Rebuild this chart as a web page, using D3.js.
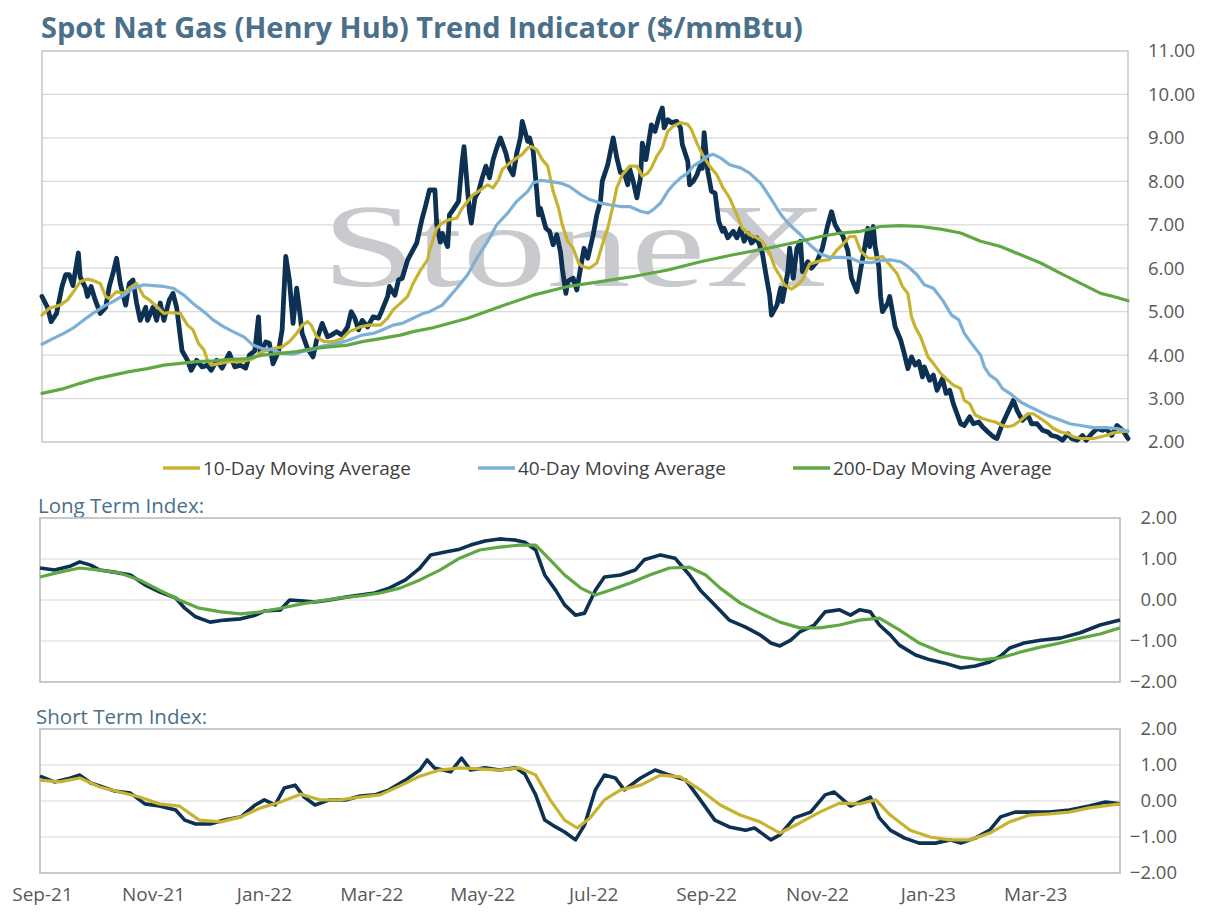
<!DOCTYPE html>
<html>
<head>
<meta charset="utf-8">
<script src="https://cdn.jsdelivr.net/npm/d3@7"></script>
<style>
body { margin: 0; background: #fff; }
text { font-family: "Open Sans", sans-serif; }
text.mark { font-family: "Liberation Serif", "DejaVu Serif", serif; }
</style>
</head>
<body>
<svg id="chart" width="1209" height="922"></svg>
<script>
// every point is [days since 1 Sep 2021, value]
const startDate = new Date(2021, 8, 1);
const lastDay = 597;

const spot = [[0,5.35],[3,5.1],[5,4.77],[8,4.96],[11,5.58],[13,5.85],[15,5.85],[17,5.6],[20,6.35],[21,5.8],
  [24,5.54],[25,5.35],[27,5.58],[29,5.3],[32,4.96],[35,5.1],[37,5.58],[39,5.88],[41,6.23],[43,5.65],
  [46,5.15],[48,5.65],[50,5.73],[52,5.2],[54,4.8],[57,5.1],[58,4.8],[61,5.1],[63,4.8],[65,5.2],
  [67,4.8],[70,5.27],[72,5.42],[74,5.1],[77,4.1],[80,3.88],[82,3.65],[85,3.88],[88,3.73],[91,3.77],
  [93,3.65],[96,3.88],[99,3.7],[102,3.96],[103,4.04],[106,3.73],[109,3.77],[112,3.7],[114,4.0],[117,4.1],
  [119,4.88],[120,4.04],[123,4.3],[125,4.27],[127,3.8],[130,4.08],[132,4.58],[134,6.27],[136,5.73],[138,4.73],
  [140,5.54],[142,4.88],[143,4.5],[146,4.15],[149,3.96],[151,4.35],[154,4.73],[157,4.42],[159,4.46],[162,4.54],
  [165,4.46],[168,4.65],[170,5.0],[172,4.85],[174,4.58],[176,4.8],[179,4.65],[182,4.88],[185,4.85],[187,5.04],
  [190,5.35],[191,5.58],[194,5.38],[196,5.73],[198,5.77],[201,6.19],[203,6.35],[206,6.58],[209,7.15],[211,7.46],
  [213,7.8],[216,7.8],[217,7.0],[219,6.6],[220,6.8],[223,6.5],[224,7.23],[226,7.35],[229,7.54],[231,8.46],
  [232,8.8],[234,7.77],[235,7.3],[236,7.04],[238,7.62],[240,7.77],[242,8.08],[244,8.35],[246,8.08],[248,8.5],
  [250,8.77],[252,9.0],[255,8.65],[257,8.3],[259,8.15],[261,8.65],[263,9.0],[264,9.38],[267,8.92],[268,9.0],
  [270,8.7],[272,7.77],[273,7.23],[274,7.38],[277,6.92],[279,6.85],[281,6.54],[283,6.77],[285,6.38],[286,6.0],
  [288,5.42],[289,5.7],[292,5.77],[294,5.5],[297,6.23],[298,6.46],[300,6.23],[303,6.77],[305,7.23],[307,7.54],
  [308,8.0],[311,8.38],[314,9.0],[316,8.54],[318,8.2],[320,8.2],[322,7.92],[323,8.3],[325,8.0],[327,7.62],
  [329,8.08],[330,8.88],[332,8.5],[333,8.77],[335,9.3],[337,9.15],[339,9.46],[341,9.69],[342,9.23],[344,9.42],
  [346,9.35],[349,9.38],[351,9.23],[352,8.85],[355,8.46],[356,7.92],[358,8.0],[360,8.15],[362,8.38],[363,8.3],
  [364,9.12],[366,8.23],[368,7.77],[370,7.73],[372,7.08],[374,6.85],[375,6.92],[377,6.7],[380,6.85],[382,6.7],
  [384,6.92],[386,6.62],[388,6.8],[390,6.58],[393,6.7],[396,6.35],[398,5.85],[400,5.38],[401,4.92],[404,5.15],
  [406,5.54],[407,5.23],[410,5.92],[411,6.46],[413,5.77],[415,6.46],[417,6.62],[418,5.92],[421,6.15],[423,6.0],
  [426,6.15],[429,6.46],[432,7.0],[434,7.3],[436,7.0],[438,6.85],[440,6.77],[443,6.4],[445,5.77],[448,5.46],
  [450,5.96],[452,6.42],[454,6.92],[455,6.5],[457,6.96],[458,6.5],[460,6.04],[461,5.35],[462,5.0],[465,5.2],
  [466,5.35],[469,4.65],[472,4.35],[474,4.04],[476,3.69],[478,3.96],[480,3.77],[482,3.85],[484,3.5],[485,3.73],
  [488,3.42],[490,3.54],[492,3.19],[495,3.46],[497,3.12],[499,3.19],[501,2.88],[503,2.65],[505,2.42],[507,2.38],
  [510,2.58],[512,2.42],[515,2.46],[517,2.35],[520,2.23],[523,2.12],[525,2.08],[528,2.42],[531,2.69],[534,2.96],
  [536,2.73],[539,2.5],[542,2.62],[544,2.42],[547,2.42],[550,2.27],[553,2.23],[555,2.15],[558,2.12],[561,2.04],
  [564,2.19],[566,2.08],[569,2.04],[572,2.15],[574,2.04],[577,2.19],[580,2.31],[583,2.27],[585,2.31],[588,2.15],
  [591,2.38],[594,2.27],[597,2.08]];

const ma10 = [[0,4.92],[4,5.08],[10,5.15],[14,5.27],[18,5.5],[21,5.69],[25,5.75],[28,5.72],[32,5.65],[35,5.35],
  [37,5.3],[41,5.46],[45,5.42],[48,5.54],[52,5.65],[56,5.35],[59,5.27],[63,5.12],[67,4.96],[70,4.98],
  [76,4.96],[80,4.69],[83,4.58],[86,4.27],[89,4.12],[91,3.88],[93,3.77],[98,3.81],[103,3.85],[110,3.85],
  [116,3.92],[121,4.08],[127,4.15],[132,4.19],[136,4.31],[140,4.5],[143,4.69],[146,4.77],[148,4.69],[151,4.42],
  [155,4.31],[160,4.31],[165,4.38],[169,4.54],[175,4.65],[180,4.69],[186,4.69],[190,4.85],[193,5.04],[197,5.19],
  [201,5.35],[204,5.65],[208,5.95],[212,6.2],[213,6.4],[217,6.92],[220,7.04],[224,7.12],[228,7.15],[231,7.38],
  [234,7.54],[237,7.69],[241,7.8],[245,7.92],[248,7.85],[251,8.04],[253,8.27],[257,8.42],[261,8.54],[264,8.62],
  [267,8.77],[269,8.8],[272,8.73],[275,8.5],[278,8.35],[281,7.77],[284,7.38],[286,7.0],[289,6.62],[292,6.46],
  [295,6.12],[297,6.04],[301,6.0],[305,6.12],[308,6.54],[311,6.92],[314,7.46],[316,7.85],[319,8.15],[323,8.35],
  [327,8.35],[330,8.12],[333,8.19],[335,8.31],[338,8.58],[341,8.77],[344,9.15],[347,9.27],[351,9.35],[355,9.31],
  [357,9.19],[360,8.88],[363,8.62],[367,8.35],[371,8.15],[374,7.88],[378,7.62],[382,7.23],[385,6.92],[389,6.77],
  [393,6.7],[396,6.62],[400,6.35],[403,6.0],[406,5.8],[408,5.62],[412,5.52],[415,5.6],[418,5.73],[422,6.1],
  [428,6.17],[433,6.2],[437,6.42],[440,6.54],[444,6.73],[447,6.73],[450,6.4],[454,6.23],[457,6.23],[462,6.27],
  [466,6.08],[470,5.88],[473,5.58],[476,5.42],[478,4.88],[480,4.65],[483,4.42],[487,3.96],[490,3.81],[494,3.58],
  [498,3.42],[501,3.31],[505,3.23],[507,2.96],[510,2.88],[513,2.62],[517,2.54],[520,2.5],[524,2.46],[528,2.38],
  [531,2.35],[534,2.38],[538,2.5],[542,2.65],[545,2.65],[549,2.54],[553,2.42],[556,2.31],[560,2.23],[564,2.19],
  [567,2.12],[571,2.08],[574,2.08],[578,2.08],[582,2.12],[585,2.15],[589,2.21],[593,2.23],[597,2.25]];

const ma40 = [[0,4.25],[6,4.38],[12,4.5],[17,4.62],[23,4.81],[28,4.96],[34,5.12],[39,5.23],[45,5.38],[50,5.54],
  [56,5.62],[61,5.6],[67,5.58],[72,5.54],[78,5.38],[83,5.19],[89,5.0],[94,4.81],[100,4.65],[105,4.54],
  [111,4.42],[116,4.23],[121,4.15],[127,4.12],[132,4.04],[138,4.02],[143,4.08],[149,4.13],[154,4.21],[160,4.25],
  [166,4.31],[171,4.38],[176,4.46],[182,4.5],[187,4.58],[193,4.69],[198,4.73],[204,4.85],[209,4.95],[213,5.0],
  [220,5.15],[228,5.54],[234,5.85],[239,6.23],[245,6.62],[250,7.0],[256,7.27],[261,7.54],[267,7.77],[270,7.96],
  [274,8.02],[279,8.0],[285,7.96],[290,7.88],[296,7.7],[301,7.58],[307,7.5],[312,7.46],[318,7.42],[323,7.42],
  [329,7.31],[333,7.27],[336,7.35],[340,7.5],[344,7.77],[347,7.92],[351,8.08],[355,8.19],[358,8.35],[362,8.46],
  [366,8.58],[369,8.62],[373,8.54],[378,8.38],[384,8.31],[389,8.19],[395,7.96],[400,7.65],[404,7.38],[407,7.19],
  [411,7.0],[417,6.77],[422,6.54],[428,6.33],[433,6.25],[439,6.25],[444,6.24],[450,6.14],[456,6.13],[461,6.18],
  [467,6.19],[472,6.15],[476,6.04],[481,5.85],[485,5.62],[490,5.54],[495,5.27],[500,4.92],[504,4.81],[507,4.5],
  [511,4.27],[516,4.0],[518,3.73],[521,3.54],[525,3.42],[528,3.23],[532,3.12],[538,2.92],[543,2.81],[549,2.69],
  [554,2.59],[560,2.5],[565,2.42],[571,2.38],[578,2.33],[585,2.33],[591,2.31],[597,2.25]];

const ma200 = [[0,3.12],[12,3.23],[21,3.35],[30,3.46],[39,3.54],[48,3.62],[58,3.69],[67,3.77],[76,3.81],[85,3.85],
  [94,3.87],[103,3.9],[113,3.92],[121,4.0],[131,4.04],[140,4.08],[149,4.15],[158,4.19],[168,4.23],[176,4.31],
  [186,4.38],[197,4.46],[204,4.54],[215,4.63],[234,4.85],[252,5.12],[270,5.38],[289,5.58],[307,5.69],[325,5.81],
  [344,5.96],[362,6.15],[380,6.31],[399,6.46],[417,6.62],[428,6.73],[439,6.81],[450,6.85],[461,6.96],[472,6.98],
  [483,6.96],[494,6.9],[505,6.81],[516,6.62],[527,6.5],[538,6.31],[549,6.12],[560,5.88],[571,5.65],[582,5.42],
  [589,5.35],[597,5.25]];

const longIndex = [[0,0.78],[8,0.73],[17,0.83],[22,0.93],[28,0.85],[33,0.73],[41,0.68],[50,0.61],[58,0.37],[66,0.2],
  [75,0.05],[80,-0.2],[86,-0.41],[94,-0.54],[102,-0.49],[111,-0.46],[119,-0.37],[124,-0.27],[133,-0.24],[138,0],
  [144,-0.02],[152,-0.05],[160,0],[169,0.07],[177,0.12],[185,0.17],[193,0.29],[202,0.49],[210,0.78],[216,1.1],
  [224,1.17],[232,1.24],[238,1.34],[246,1.44],[254,1.49],[263,1.46],[268,1.41],[274,1.22],[279,0.61],[285,0.24],
  [290,-0.12],[296,-0.37],[301,-0.32],[307,0.24],[312,0.56],[321,0.61],[329,0.73],[334,0.98],[343,1.1],[351,1.02],
  [359,0.61],[365,0.24],[373,-0.12],[381,-0.49],[390,-0.66],[398,-0.85],[404,-1.05],[409,-1.12],[415,-0.98],[420,-0.78],
  [428,-0.61],[434,-0.29],[442,-0.24],[448,-0.37],[453,-0.24],[459,-0.29],[464,-0.61],[470,-0.85],[475,-1.1],[484,-1.34],
  [492,-1.46],[500,-1.54],[509,-1.66],[517,-1.61],[525,-1.51],[531,-1.37],[536,-1.17],[544,-1.05],[553,-0.98],[564,-0.93],
  [575,-0.8],[586,-0.61],[597,-0.49]];

const longMa = [[0,0.56],[11,0.68],[22,0.78],[33,0.73],[44,0.66],[55,0.49],[66,0.24],[77,0],[88,-0.2],[100,-0.29],
  [111,-0.34],[122,-0.29],[133,-0.2],[144,-0.1],[155,-0.02],[166,0.05],[177,0.1],[188,0.17],[199,0.29],[210,0.49],
  [221,0.73],[232,1.02],[243,1.22],[254,1.29],[265,1.34],[274,1.34],[282,0.98],[290,0.61],[299,0.29],[307,0.12],
  [315,0.24],[326,0.41],[337,0.61],[348,0.78],[359,0.8],[368,0.61],[376,0.29],[387,-0.07],[398,-0.32],[409,-0.54],
  [420,-0.68],[431,-0.68],[442,-0.61],[453,-0.49],[464,-0.44],[475,-0.73],[486,-1.05],[498,-1.27],[509,-1.39],[520,-1.46],
  [531,-1.41],[542,-1.27],[553,-1.15],[564,-1.05],[575,-0.93],[586,-0.83],[597,-0.68]];

const shortIndex = [[0,0.69],[8,0.53],[17,0.64],[22,0.72],[28,0.5],[33,0.42],[41,0.28],[50,0.22],[58,-0.08],[66,-0.14],
  [75,-0.25],[80,-0.53],[86,-0.64],[94,-0.64],[102,-0.53],[111,-0.44],[119,-0.11],[124,0.03],[130,-0.11],[135,0.36],
  [141,0.44],[146,0.11],[152,-0.11],[160,0.03],[169,0.03],[177,0.14],[185,0.17],[193,0.31],[202,0.58],[210,0.86],
  [214,1.14],[218,0.92],[227,0.81],[233,1.19],[238,0.86],[246,0.92],[254,0.86],[263,0.92],[268,0.75],[274,0.17],
  [279,-0.53],[285,-0.72],[290,-0.86],[296,-1.08],[301,-0.67],[307,0.31],[312,0.72],[318,0.64],[323,0.31],[332,0.64],
  [340,0.86],[348,0.72],[357,0.58],[365,0.03],[373,-0.53],[381,-0.72],[390,-0.81],[395,-0.75],[404,-1.08],[409,-0.94],
  [417,-0.47],[426,-0.31],[434,0.17],[439,0.25],[448,-0.14],[453,-0.03],[459,0.11],[464,-0.47],[470,-0.81],[478,-1.03],
  [486,-1.17],[495,-1.17],[503,-1.08],[509,-1.17],[517,-1.03],[525,-0.81],[531,-0.44],[539,-0.31],[547,-0.31],[558,-0.31],
  [569,-0.25],[580,-0.14],[589,-0.03],[597,-0.08]];

const shortMa = [[0,0.58],[11,0.53],[22,0.64],[33,0.39],[44,0.25],[55,0.11],[66,-0.08],[77,-0.14],[88,-0.53],[100,-0.58],
  [111,-0.44],[122,-0.19],[133,-0.03],[144,0.19],[155,0.03],[166,0.03],[177,0.11],[188,0.17],[199,0.42],[210,0.69],
  [221,0.86],[232,0.92],[243,0.89],[254,0.86],[265,0.92],[274,0.72],[282,0.03],[290,-0.53],[297,-0.75],[304,-0.47],
  [312,0.03],[321,0.31],[332,0.44],[343,0.72],[354,0.67],[365,0.31],[376,-0.11],[387,-0.39],[398,-0.58],[409,-0.89],
  [420,-0.61],[431,-0.31],[442,-0.06],[453,-0.08],[462,0.03],[470,-0.39],[481,-0.81],[492,-1.0],[503,-1.08],[514,-1.08],
  [525,-0.89],[536,-0.58],[547,-0.39],[558,-0.36],[569,-0.31],[580,-0.19],[597,-0.08]];

const priceTicks = [2, 3, 4, 5, 6, 7, 8, 9, 10, 11];
const indexTicks = [-2, -1, 0, 1, 2];
const monthTicks = ["2021-09-01","2021-11-01","2022-01-01","2022-03-01","2022-05-01",
  "2022-07-01","2022-09-01","2022-11-01","2023-01-01","2023-03-01"];
const legendNames = ["10-Day Moving Average", "40-Day Moving Average", "200-Day Moving Average"];

const navy = "#0c3152", gold = "#c8b330", blue = "#7cb0d6", green = "#60a844";
const titleBlue = "#4b7089", tickGrey = "#595959";

const day = d => d3.timeDay.offset(startDate, d);
const svg = d3.select("#chart");

// ---------- top price chart ----------
const xTop = d3.scaleTime().domain([day(0), day(lastDay)]).range([42, 1128]);
const yTop = d3.scaleLinear().domain([2, 11]).range([442, 51]);

const title = svg.append("text")
    .attr("x", 41).attr("y", 38)
    .attr("fill", titleBlue)
    .attr("font-weight", 700)
    .attr("font-size", 27)
    .text("Spot Nat Gas (Henry Hub) Trend Indicator ($/mmBtu)");
const tw = title.node().getComputedTextLength();
title.attr("font-size", 27 * 762 / tw);

svg.append("g").selectAll("line")
    .data(priceTicks.slice(1, -1))
    .enter().append("line")
    .attr("x1", 42).attr("x2", 1128)
    .attr("y1", d => yTop(d)).attr("y2", d => yTop(d))
    .attr("stroke", "#d9d9d9").attr("stroke-width", 1.2);
svg.append("rect")
    .attr("x", 42).attr("y", 51).attr("width", 1086).attr("height", 391)
    .attr("fill", "none").attr("stroke", "#bfbfbf").attr("stroke-width", 1.3);

// watermark
svg.append("text")
    .attr("class", "mark")
    .attr("x", 322).attr("y", 286)
    .attr("font-size", 118)
    .attr("fill", "#c9cacd")
    .attr("textLength", 505).attr("lengthAdjust", "spacingAndGlyphs")
    .text("StoneX");
svg.append("text")
    .attr("class", "mark")
    .attr("x", 828).attr("y", 220)
    .attr("font-size", 13).attr("fill", "#c9cacd")
    .text("®");

const lineTop = d3.line().x(d => xTop(day(d[0]))).y(d => yTop(d[1]));
const topSeries = [
    {data: spot, color: navy, w: 4.8},
    {data: ma10, color: gold, w: 3.2},
    {data: ma40, color: blue, w: 3.2},
    {data: ma200, color: green, w: 3.2}
];
svg.append("g").selectAll("path")
    .data(topSeries)
    .enter().append("path")
    .attr("d", s => lineTop(s.data))
    .attr("fill", "none")
    .attr("stroke", s => s.color)
    .attr("stroke-width", s => s.w)
    .attr("stroke-linejoin", "round")
    .attr("stroke-linecap", "round");

const yTopAxis = svg.append("g")
    .attr("transform", "translate(1128,0)")
    .call(d3.axisRight(yTop).tickValues(priceTicks).tickFormat(d3.format(".2f")).tickSize(0).tickPadding(20));
yTopAxis.select(".domain").remove();
yTopAxis.selectAll("text")
    .attr("font-family", "'Open Sans', sans-serif")
    .attr("font-size", 18.5).attr("fill", tickGrey);

// legend
const legendX = [163, 478, 793];
const legend = svg.append("g").selectAll("g")
    .data(legendNames)
    .enter().append("g")
    .attr("transform", (d, i) => "translate(" + legendX[i] + ",468)");
legend.append("line")
    .attr("x1", 0).attr("x2", 37)
    .attr("stroke", (d, i) => [gold, blue, green][i])
    .attr("stroke-width", 3.5);
legend.append("text")
    .attr("x", 40).attr("y", 7)
    .attr("font-size", 19).attr("fill", "#404040")
    .text(d => d);

// ---------- index panels ----------
const xLow = d3.scaleTime().domain([day(0), day(lastDay)]).range([40, 1120]);

function indexPanel(label, labelX, top, bottom, idx, ma, maColor) {
    const y = d3.scaleLinear().domain([-2, 2]).range([bottom, top]);
    svg.append("text")
        .attr("x", labelX).attr("y", top - 5)
        .attr("font-size", 20.5).attr("fill", titleBlue)
        .text(label);
    svg.append("g").selectAll("line")
        .data(indexTicks.slice(1, -1))
        .enter().append("line")
        .attr("x1", 40).attr("x2", 1120)
        .attr("y1", d => y(d)).attr("y2", d => y(d))
        .attr("stroke", "#d9d9d9").attr("stroke-width", 1.2);
    svg.append("rect")
        .attr("x", 40).attr("y", top).attr("width", 1080).attr("height", bottom - top)
        .attr("fill", "none").attr("stroke", "#c4c4c4").attr("stroke-width", 1.8);
    const line = d3.line().x(d => xLow(day(d[0]))).y(d => y(d[1]));
    svg.append("path").attr("d", line(idx))
        .attr("fill", "none").attr("stroke", navy).attr("stroke-width", 3.6)
        .attr("stroke-linejoin", "round");
    svg.append("path").attr("d", line(ma))
        .attr("fill", "none").attr("stroke", maColor).attr("stroke-width", 3.2)
        .attr("stroke-linejoin", "round");
    const ax = svg.append("g")
        .attr("transform", "translate(1120,0)")
        .call(d3.axisRight(y).tickValues(indexTicks).tickFormat(d3.format(".2f")).tickSize(0));
    ax.select(".domain").remove();
    ax.selectAll("text")
        .attr("x", 57).attr("text-anchor", "end")
        .attr("font-family", "'Open Sans', sans-serif")
        .attr("font-size", 18.5).attr("fill", tickGrey);
}

indexPanel("Long Term Index:", 38, 518, 682, longIndex, longMa, green);
indexPanel("Short Term Index:", 36, 729, 873, shortIndex, shortMa, gold);

// month labels
const xAxis = svg.append("g")
    .attr("transform", "translate(0,883)")
    .call(d3.axisBottom(xTop)
        .tickValues(monthTicks.map(s => d3.timeParse("%Y-%m-%d")(s)))
        .tickFormat(d3.timeFormat("%b-%y"))
        .tickSize(0).tickPadding(4));
xAxis.select(".domain").remove();
xAxis.selectAll("text")
    .attr("font-family", "'Open Sans', sans-serif")
    .attr("font-size", 19).attr("fill", tickGrey);
</script>
</body>
</html>
